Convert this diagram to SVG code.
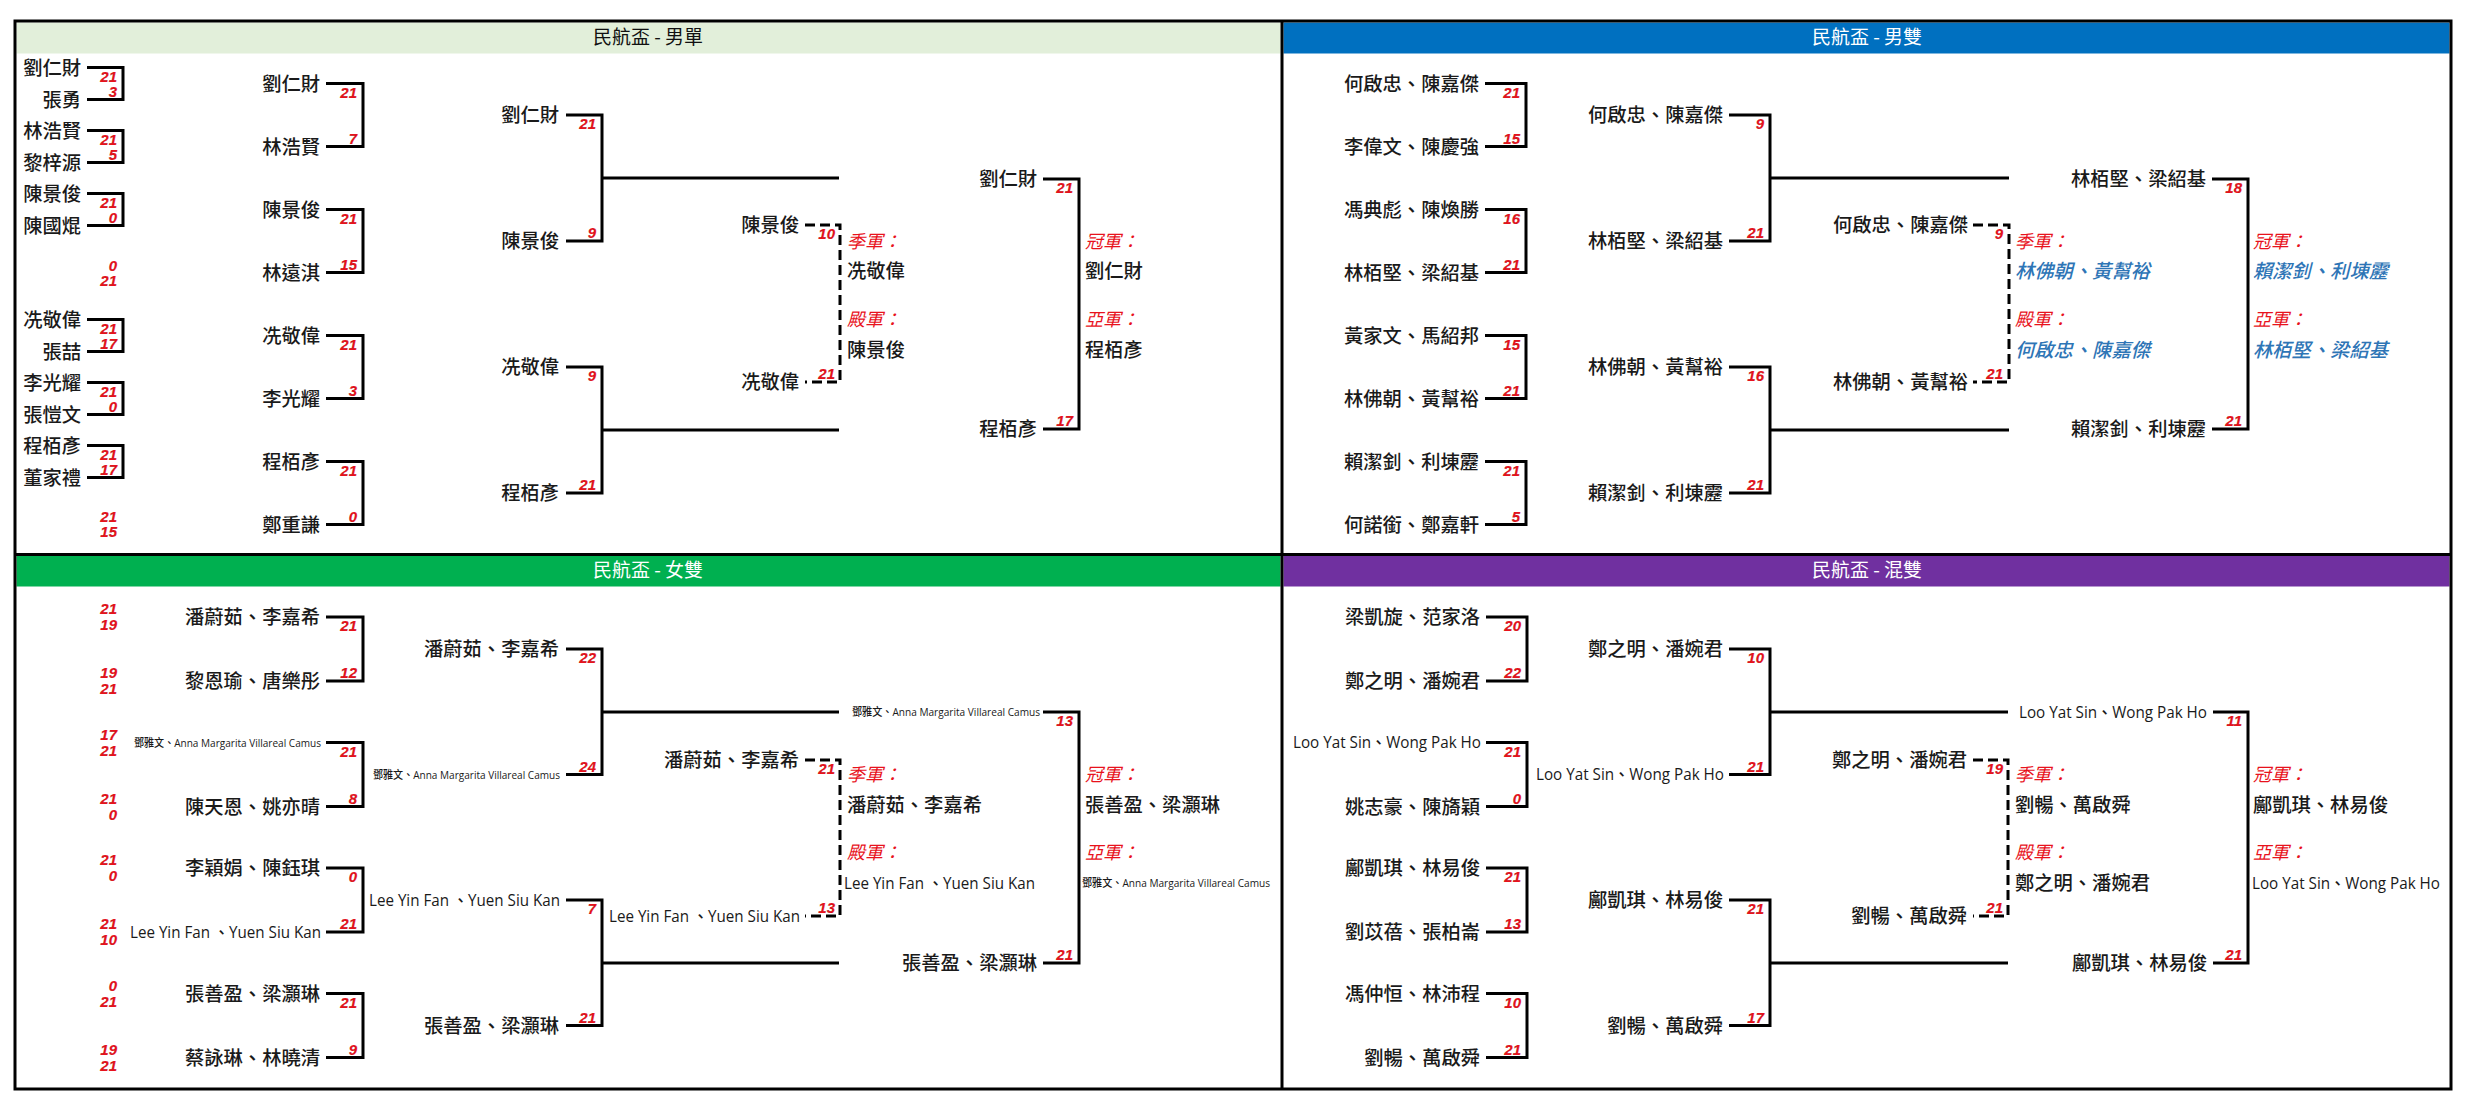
<svg xmlns="http://www.w3.org/2000/svg" width="2467" height="1107" viewBox="0 0 2467 1107">
<style>
.ln{stroke:#000;stroke-width:3;fill:none}
.dl{stroke:#000;stroke-width:3;fill:none;stroke-dasharray:10 5}
.n{font-family:"Noto Sans CJK TC","Noto Sans CJK SC",sans-serif;font-size:19.3px;font-weight:500;fill:#1a1a1a;text-anchor:end}
.e{font-family:"Open Sans","Noto Sans CJK TC",sans-serif;font-size:16px;font-weight:500}
.sm{font-family:"Open Sans","Noto Sans CJK TC",sans-serif;font-size:11px;font-weight:500}
.w{text-anchor:start}
.sc{font-family:"Liberation Sans",Arial,sans-serif;font-size:15px;font-weight:bold;font-style:italic;fill:#e8121c;text-anchor:end;stroke:#8a0000;stroke-width:0.15}
.lb{font-family:"Noto Sans CJK TC","Noto Sans CJK SC",sans-serif;font-size:18px;font-style:italic;fill:#e8121c}
.bl{fill:#2e75b6;font-style:italic}
.t{font-family:"Noto Sans CJK TC","Noto Sans CJK SC",sans-serif;font-size:19px;text-anchor:middle}
</style>
<rect width="2467" height="1107" fill="#fff"/>
<g id="headers">
<rect x="16.5" y="22.5" width="1264" height="31" fill="#e2efda"/>
<rect x="1283.5" y="22.5" width="1166" height="31" fill="#0070c0"/>
<rect x="16.5" y="556" width="1264" height="30.5" fill="#00b050"/>
<rect x="1283.5" y="556" width="1166" height="30.5" fill="#7030a0"/>
<text class="t" x="648" y="44" fill="#111">民航盃 - 男單</text>
<text class="t" x="1867" y="44" fill="#fff">民航盃 - 男雙</text>
<text class="t" x="648" y="577" fill="#fff">民航盃 - 女雙</text>
<text class="t" x="1867" y="577" fill="#fff">民航盃 - 混雙</text>
</g>
<g id="frame" class="ln">
<rect x="15" y="21" width="2436" height="1068"/>
<path d="M1282,21 V1089 M15,554.5 H2451"/>
</g>
<g id="connectors">
<path class="ln" d="M87,67.5H123V99.5H87 M87,130.5H123V162.5H87 M87,193.5H123V225.5H87 M87,319.5H123V351.5H87 M87,382.5H123V414.5H87 M87,445.5H123V477.5H87"/>
<path class="ln" d="M326,83.5H363V146.5H326 M326,209.5H363V272.5H326 M326,335.5H363V398.5H326 M326,461.5H363V524.5H326"/>
<path class="ln" d="M566,115H602V241H566 M566,367H602V493H566 M602,178H839 M602,430H839"/>
<path class="dl" d="M805,225H840V382H805"/>
<path class="ln" d="M1043,179H1079V429H1043"/>
<path class="ln" d="M1485,83.5H1526V146.5H1485 M1485,209.5H1526V272.5H1485 M1485,335.5H1526V398.5H1485 M1485,461.5H1526V524.5H1485"/>
<path class="ln" d="M1729,115H1770V241H1729 M1729,367H1770V493H1729 M1770,178H2009 M1770,430H2009"/>
<path class="dl" d="M1973,225H2009V382H1973"/>
<path class="ln" d="M2212,179H2248V429H2212"/>
<path class="ln" d="M326,617H363V681H326 M326,742.5H363V806.5H326 M326,868H363V932H326 M326,993.5H363V1057.5H326"/>
<path class="ln" d="M566,649H602V774.5H566 M566,900H602V1025.5H566 M602,712H839 M602,963H839"/>
<path class="dl" d="M805,760H840V916H805"/>
<path class="ln" d="M1043,712H1079V963H1043"/>
<path class="ln" d="M1486,617H1527V681H1486 M1486,742.5H1527V806.5H1486 M1486,868H1527V932H1486 M1486,993.5H1527V1057.5H1486"/>
<path class="ln" d="M1729,649H1770V774.5H1729 M1729,900H1770V1025.5H1729 M1770,712H2008 M1770,963H2008"/>
<path class="dl" d="M1973,760H2008V916H1973"/>
<path class="ln" d="M2213,712H2248V963H2213"/>
</g>

<g id="ms-r1-1"><text class="n" x="81" y="74.5">劉仁財</text><text class="n" x="81" y="106.5">張勇</text><text class="sc" x="117" y="81.5">21</text><text class="sc" x="117" y="96.5">3</text></g>
<g id="ms-r1-2"><text class="n" x="81" y="137.5">林浩賢</text><text class="n" x="81" y="169.5">黎梓源</text><text class="sc" x="117" y="144.5">21</text><text class="sc" x="117" y="159.5">5</text></g>
<g id="ms-r1-3"><text class="n" x="81" y="200.5">陳景俊</text><text class="n" x="81" y="232.5">陳國焜</text><text class="sc" x="117" y="207.5">21</text><text class="sc" x="117" y="222.5">0</text></g>
<g id="ms-r1-4"><text class="sc" x="117" y="270.5">0</text><text class="sc" x="117" y="286">21</text></g>
<g id="ms-r1-5"><text class="n" x="81" y="326.5">冼敬偉</text><text class="n" x="81" y="358.5">張喆</text><text class="sc" x="117" y="333.5">21</text><text class="sc" x="117" y="348.5">17</text></g>
<g id="ms-r1-6"><text class="n" x="81" y="389.5">李光耀</text><text class="n" x="81" y="421.5">張愷文</text><text class="sc" x="117" y="396.5">21</text><text class="sc" x="117" y="411.5">0</text></g>
<g id="ms-r1-7"><text class="n" x="81" y="452.5">程栢彥</text><text class="n" x="81" y="484.5">董家禮</text><text class="sc" x="117" y="459.5">21</text><text class="sc" x="117" y="474.5">17</text></g>
<g id="ms-r1-8"><text class="sc" x="117" y="521.5">21</text><text class="sc" x="117" y="537">15</text></g>

<g id="ms-r2-1"><text class="n" x="320" y="90.5">劉仁財</text><text class="n" x="320" y="153.5">林浩賢</text><text class="sc" x="357" y="97.5">21</text><text class="sc" x="357" y="143.5">7</text></g>
<g id="ms-r2-2"><text class="n" x="320" y="216.5">陳景俊</text><text class="n" x="320" y="279.5">林遠淇</text><text class="sc" x="357" y="223.5">21</text><text class="sc" x="357" y="269.5">15</text></g>
<g id="ms-r2-3"><text class="n" x="320" y="342.5">冼敬偉</text><text class="n" x="320" y="405.5">李光耀</text><text class="sc" x="357" y="349.5">21</text><text class="sc" x="357" y="395.5">3</text></g>
<g id="ms-r2-4"><text class="n" x="320" y="468.5">程栢彥</text><text class="n" x="320" y="531.5">鄭重謙</text><text class="sc" x="357" y="475.5">21</text><text class="sc" x="357" y="521.5">0</text></g>

<g id="ms-sf-1"><text class="n" x="559" y="122">劉仁財</text><text class="n" x="559" y="248">陳景俊</text><text class="sc" x="596" y="129">21</text><text class="sc" x="596" y="238">9</text></g>
<g id="ms-sf-2"><text class="n" x="559" y="374">冼敬偉</text><text class="n" x="559" y="500">程栢彥</text><text class="sc" x="596" y="381">9</text><text class="sc" x="596" y="490">21</text></g>
<g id="ms-3rd"><text class="n" x="799" y="232">陳景俊</text><text class="n" x="799" y="389">冼敬偉</text><text class="sc" x="835" y="239">10</text><text class="sc" x="835" y="379">21</text></g>
<g id="ms-3rd-res"><text class="lb" x="847" y="248">季軍：</text><text class="n w" x="847" y="278">冼敬偉</text><text class="lb" x="847" y="326">殿軍：</text><text class="n w" x="847" y="357">陳景俊</text></g>
<g id="ms-final"><text class="n" x="1037" y="186">劉仁財</text><text class="n" x="1037" y="436">程栢彥</text><text class="sc" x="1073" y="193">21</text><text class="sc" x="1073" y="426">17</text></g>
<g id="ms-final-res"><text class="lb" x="1085" y="248">冠軍：</text><text class="n w" x="1085" y="278">劉仁財</text><text class="lb" x="1085" y="326">亞軍：</text><text class="n w" x="1085" y="357">程栢彥</text></g>

<g id="md-r1-1"><text class="n" x="1479" y="90.5">何啟忠、陳嘉傑</text><text class="n" x="1479" y="153.5">李偉文、陳慶強</text><text class="sc" x="1520" y="97.5">21</text><text class="sc" x="1520" y="143.5">15</text></g>
<g id="md-r1-2"><text class="n" x="1479" y="216.5">馮典彪、陳煥勝</text><text class="n" x="1479" y="279.5">林栢堅、梁紹基</text><text class="sc" x="1520" y="223.5">16</text><text class="sc" x="1520" y="269.5">21</text></g>
<g id="md-r1-3"><text class="n" x="1479" y="342.5">黃家文、馬紹邦</text><text class="n" x="1479" y="405.5">林佛朝、黃幫裕</text><text class="sc" x="1520" y="349.5">15</text><text class="sc" x="1520" y="395.5">21</text></g>
<g id="md-r1-4"><text class="n" x="1479" y="468.5">賴潔釗、利埬靂</text><text class="n" x="1479" y="531.5">何諾銜、鄭嘉軒</text><text class="sc" x="1520" y="475.5">21</text><text class="sc" x="1520" y="521.5">5</text></g>
<g id="md-sf-1"><text class="n" x="1723" y="122">何啟忠、陳嘉傑</text><text class="n" x="1723" y="248">林栢堅、梁紹基</text><text class="sc" x="1764" y="129">9</text><text class="sc" x="1764" y="238">21</text></g>
<g id="md-sf-2"><text class="n" x="1723" y="374">林佛朝、黃幫裕</text><text class="n" x="1723" y="500">賴潔釗、利埬靂</text><text class="sc" x="1764" y="381">16</text><text class="sc" x="1764" y="490">21</text></g>
<g id="md-3rd"><text class="n" x="1968" y="232">何啟忠、陳嘉傑</text><text class="n" x="1968" y="389">林佛朝、黃幫裕</text><text class="sc" x="2003" y="239">9</text><text class="sc" x="2003" y="379">21</text></g>
<g id="md-3rd-res"><text class="lb" x="2015" y="248">季軍：</text><text class="n w bl" x="2015" y="278">林佛朝、黃幫裕</text><text class="lb" x="2015" y="326">殿軍：</text><text class="n w bl" x="2015" y="357">何啟忠、陳嘉傑</text></g>
<g id="md-final"><text class="n" x="2206" y="186">林栢堅、梁紹基</text><text class="n" x="2206" y="436">賴潔釗、利埬靂</text><text class="sc" x="2242" y="193">18</text><text class="sc" x="2242" y="426">21</text></g>
<g id="md-final-res"><text class="lb" x="2253" y="248">冠軍：</text><text class="n w bl" x="2253" y="278">賴潔釗、利埬靂</text><text class="lb" x="2253" y="326">亞軍：</text><text class="n w bl" x="2253" y="357">林栢堅、梁紹基</text></g>

<g id="wd-side-scores">
<text class="sc" x="117" y="614">21</text><text class="sc" x="117" y="630">19</text>
<text class="sc" x="117" y="678">19</text><text class="sc" x="117" y="694">21</text>
<text class="sc" x="117" y="739.5">17</text><text class="sc" x="117" y="755.5">21</text>
<text class="sc" x="117" y="803.5">21</text><text class="sc" x="117" y="819.5">0</text>
<text class="sc" x="117" y="865">21</text><text class="sc" x="117" y="881">0</text>
<text class="sc" x="117" y="929">21</text><text class="sc" x="117" y="945">10</text>
<text class="sc" x="117" y="990.5">0</text><text class="sc" x="117" y="1006.5">21</text>
<text class="sc" x="117" y="1054.5">19</text><text class="sc" x="117" y="1070.5">21</text>
</g>
<g id="wd-r1-1"><text class="n" x="320" y="624">潘蔚茹、李嘉希</text><text class="n" x="320" y="688">黎恩瑜、唐樂彤</text><text class="sc" x="357" y="631">21</text><text class="sc" x="357" y="678">12</text></g>
<g id="wd-r1-2"><text class="n sm" x="321" y="746.5" textLength="187" lengthAdjust="spacingAndGlyphs">鄧雅文、Anna Margarita Villareal Camus</text><text class="n" x="320" y="813.5">陳天恩、姚亦晴</text><text class="sc" x="357" y="756.5">21</text><text class="sc" x="357" y="803.5">8</text></g>
<g id="wd-r1-3"><text class="n" x="320" y="875">李穎娟、陳鈺琪</text><text class="n e" x="321" y="937.5" textLength="191" lengthAdjust="spacingAndGlyphs">Lee Yin Fan 、Yuen Siu Kan</text><text class="sc" x="357" y="882">0</text><text class="sc" x="357" y="929">21</text></g>
<g id="wd-r1-4"><text class="n" x="320" y="1000.5">張善盈、梁灝琳</text><text class="n" x="320" y="1064.5">蔡詠琳、林曉清</text><text class="sc" x="357" y="1007.5">21</text><text class="sc" x="357" y="1054.5">9</text></g>
<g id="wd-sf-1"><text class="n" x="559" y="656">潘蔚茹、李嘉希</text><text class="n sm" x="560" y="778.5" textLength="187" lengthAdjust="spacingAndGlyphs">鄧雅文、Anna Margarita Villareal Camus</text><text class="sc" x="596" y="663">22</text><text class="sc" x="596" y="771.5">24</text></g>
<g id="wd-sf-2"><text class="n e" x="560" y="905.5" textLength="191" lengthAdjust="spacingAndGlyphs">Lee Yin Fan 、Yuen Siu Kan</text><text class="n" x="559" y="1032.5">張善盈、梁灝琳</text><text class="sc" x="596" y="914">7</text><text class="sc" x="596" y="1022.5">21</text></g>
<g id="wd-3rd"><text class="n" x="799" y="767">潘蔚茹、李嘉希</text><text class="n e" x="800" y="921.5" textLength="191" lengthAdjust="spacingAndGlyphs">Lee Yin Fan 、Yuen Siu Kan</text><text class="sc" x="835" y="774">21</text><text class="sc" x="835" y="913">13</text></g>
<g id="wd-3rd-res"><text class="lb" x="847" y="781">季軍：</text><text class="n w" x="847" y="812">潘蔚茹、李嘉希</text><text class="lb" x="847" y="859">殿軍：</text><text class="n e w" x="844" y="888.5" textLength="191" lengthAdjust="spacingAndGlyphs">Lee Yin Fan 、Yuen Siu Kan</text></g>
<g id="wd-final"><text class="n sm" x="1040" y="716" textLength="188" lengthAdjust="spacingAndGlyphs">鄧雅文、Anna Margarita Villareal Camus</text><text class="n" x="1037" y="970">張善盈、梁灝琳</text><text class="sc" x="1073" y="726">13</text><text class="sc" x="1073" y="960">21</text></g>
<g id="wd-final-res"><text class="lb" x="1085" y="781">冠軍：</text><text class="n w" x="1085" y="812">張善盈、梁灝琳</text><text class="lb" x="1085" y="859">亞軍：</text><text class="n sm w" x="1082" y="887" textLength="188" lengthAdjust="spacingAndGlyphs">鄧雅文、Anna Margarita Villareal Camus</text></g>

<g id="xd-r1-1"><text class="n" x="1480" y="624">梁凱旋、范家洛</text><text class="n" x="1480" y="688">鄭之明、潘婉君</text><text class="sc" x="1521" y="631">20</text><text class="sc" x="1521" y="678">22</text></g>
<g id="xd-r1-2"><text class="n e" x="1481" y="748" textLength="188" lengthAdjust="spacingAndGlyphs">Loo Yat Sin、Wong Pak Ho</text><text class="n" x="1480" y="813.5">姚志豪、陳旖穎</text><text class="sc" x="1521" y="756.5">21</text><text class="sc" x="1521" y="803.5">0</text></g>
<g id="xd-r1-3"><text class="n" x="1480" y="875">鄺凱琪、林易俊</text><text class="n" x="1480" y="939">劉苡蓓、張柏崙</text><text class="sc" x="1521" y="882">21</text><text class="sc" x="1521" y="929">13</text></g>
<g id="xd-r1-4"><text class="n" x="1480" y="1000.5">馮仲恒、林沛程</text><text class="n" x="1480" y="1064.5">劉暢、萬啟舜</text><text class="sc" x="1521" y="1007.5">10</text><text class="sc" x="1521" y="1054.5">21</text></g>
<g id="xd-sf-1"><text class="n" x="1723" y="656">鄭之明、潘婉君</text><text class="n e" x="1724" y="780" textLength="188" lengthAdjust="spacingAndGlyphs">Loo Yat Sin、Wong Pak Ho</text><text class="sc" x="1764" y="663">10</text><text class="sc" x="1764" y="771.5">21</text></g>
<g id="xd-sf-2"><text class="n" x="1723" y="907">鄺凱琪、林易俊</text><text class="n" x="1723" y="1032.5">劉暢、萬啟舜</text><text class="sc" x="1764" y="914">21</text><text class="sc" x="1764" y="1022.5">17</text></g>
<g id="xd-3rd"><text class="n" x="1967" y="767">鄭之明、潘婉君</text><text class="n" x="1967" y="923">劉暢、萬啟舜</text><text class="sc" x="2003" y="774">19</text><text class="sc" x="2003" y="913">21</text></g>
<g id="xd-3rd-res"><text class="lb" x="2015" y="781">季軍：</text><text class="n w" x="2015" y="812">劉暢、萬啟舜</text><text class="lb" x="2015" y="859">殿軍：</text><text class="n w" x="2015" y="890">鄭之明、潘婉君</text></g>
<g id="xd-final"><text class="n e" x="2207" y="717.5" textLength="188" lengthAdjust="spacingAndGlyphs">Loo Yat Sin、Wong Pak Ho</text><text class="n" x="2207" y="970">鄺凱琪、林易俊</text><text class="sc" x="2242" y="726">11</text><text class="sc" x="2242" y="960">21</text></g>
<g id="xd-final-res"><text class="lb" x="2253" y="781">冠軍：</text><text class="n w" x="2253" y="812">鄺凱琪、林易俊</text><text class="lb" x="2253" y="859">亞軍：</text><text class="n e w" x="2252" y="888.5" textLength="188" lengthAdjust="spacingAndGlyphs">Loo Yat Sin、Wong Pak Ho</text></g>
</svg>
